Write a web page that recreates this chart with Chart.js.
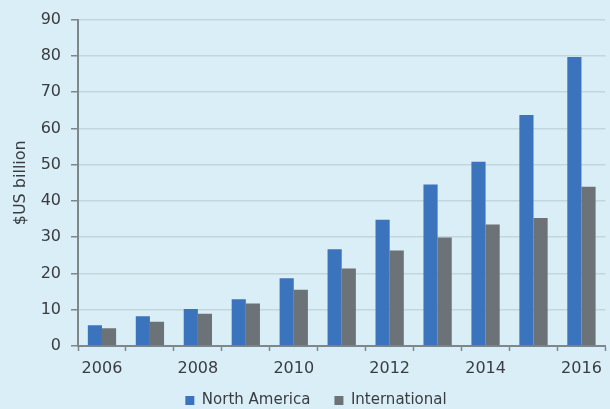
<!DOCTYPE html>
<html lang="en">
<head>
<meta charset="UTF-8">
<title>North America vs International</title>
<style>
    html, body {
        margin: 0;
        padding: 0;
        background: #d9eef7;
    }
    .wrap {
        width: 610px;
        height: 409px;
    }
</style>
</head>
<body>
<div class="wrap">
    <canvas id="myChart"></canvas>
</div>
<script src="https://cdn.jsdelivr.net/npm/chart.js@4.4.1/dist/chart.umd.min.js"></script>
<script>
    // years on the x axis, only every other one gets a label
    const years = ['2006', '2007', '2008', '2009', '2010', '2011', '2012', '2013', '2014', '2015', '2016'];
    // $US billion
    const northAmerica = [5.7, 8.2, 10.2, 12.9, 18.7, 26.7, 34.8, 44.5, 50.8, 63.7, 79.7];
    const international = [4.9, 6.7, 8.9, 11.7, 15.5, 21.4, 26.3, 29.9, 33.5, 35.3, 43.9];
    const yTicks = [0, 10, 20, 30, 40, 50, 60, 70, 80, 90];

    const textColor = '#3a3d40';
    const baseFont = 'DejaVu Sans';

    // legend padding also sets the gap between items, so pull the row back up
    const legendNudge = {
        id: 'legendNudge',
        afterLayout(chart) {
            chart.legend.top -= 13;
            chart.legend.bottom -= 13;
        }
    };

    const ctx = document.getElementById('myChart');
    new Chart(ctx, {
        type: 'bar',
        data: {
            labels: years,
            datasets: [{
                label: 'North America',
                data: northAmerica,
                backgroundColor: '#3b73bd',
                borderWidth: 0,
                categoryPercentage: 0.59,
                barPercentage: 1
            }, {
                label: 'International',
                data: international,
                backgroundColor: '#6c7377',
                borderWidth: 0,
                categoryPercentage: 0.59,
                barPercentage: 1
            }]
        },
        plugins: [legendNudge],
        options: {
            responsive: true,
            maintainAspectRatio: false,
            animation: false,
            layout: {
                padding: { left: 26, right: 4, top: 19, bottom: -22 }
            },
            plugins: {
                tooltip: { enabled: false },
                legend: {
                    position: 'bottom',
                    labels: {
                        boxWidth: 9,
                        boxHeight: 9,
                        padding: 24,
                        color: textColor,
                        font: { family: baseFont, size: 15 }
                    }
                }
            },
            scales: {
                x: {
                    offset: true,
                    grid: {
                        offset: true,
                        drawOnChartArea: false,
                        drawTicks: true,
                        tickLength: 5,
                        tickColor: '#7d878c',
                        tickWidth: 1.5
                    },
                    border: { color: '#7d878c', width: 2 },
                    ticks: {
                        autoSkip: false,
                        maxRotation: 0,
                        padding: 8,
                        color: textColor,
                        font: { family: baseFont, size: 16 },
                        callback: function (val, i) {
                            return i % 2 === 0 ? years[i] : '';
                        }
                    },
                    afterFit: function (scale) {
                        scale.height = 36;
                    }
                },
                y: {
                    min: 0,
                    max: 90,
                    afterBuildTicks: function (scale) {
                        scale.ticks = yTicks.map(v => ({ value: v }));
                    },
                    grid: {
                        color: '#c3d6de',
                        lineWidth: 1.5,
                        tickLength: 7,
                        tickColor: '#7d878c'
                    },
                    border: { color: '#7d878c', width: 2 },
                    ticks: {
                        padding: 10,
                        color: textColor,
                        font: { family: baseFont, size: 16 }
                    },
                    title: {
                        display: true,
                        text: '$US billion',
                        color: textColor,
                        font: { family: baseFont, size: 16 },
                        padding: { top: -15, bottom: 0 }
                    },
                    afterFit: function (scale) {
                        scale.width = 52;
                    }
                }
            }
        }
    });
</script>
</body>
</html>
